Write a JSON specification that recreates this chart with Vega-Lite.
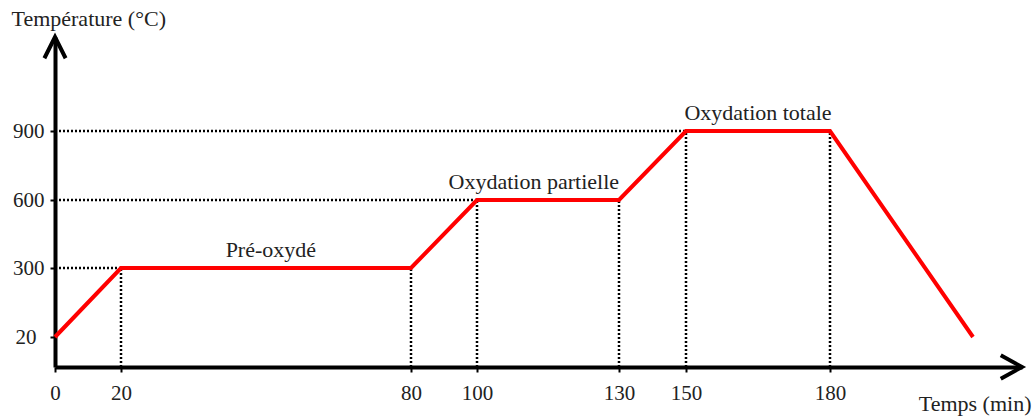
{
  "$schema": "https://vega.github.io/schema/vega-lite/v6.json",
  "width": 967,
  "height": 330,
  "autosize": {"type": "none"},
  "padding": {"left": 55, "top": 37, "right": 13, "bottom": 49},
  "background": "white",
  "config": {
    "view": {"stroke": null},
    "font": "Liberation Serif",
    "text": {"font": "Liberation Serif"}
  },
  "encoding": {
    "x": {
      "field": "t",
      "type": "quantitative",
      "scale": {
        "domain": [0, 20, 80, 100, 130, 150, 180, 210, 240],
        "range": [0, 66, 356, 422, 564, 631, 775, 918, 967],
        "nice": false,
        "zero": false
      },
      "axis": {
        "values": [0, 20, 80, 100, 130, 150, 180],
        "grid": false,
        "domainColor": "black",
        "domainWidth": 4,
        "tickColor": "black",
        "tickWidth": 2,
        "tickSize": 5,
        "labelFont": "Liberation Serif",
        "labelFontSize": 21,
        "labelColor": "#222",
        "labelPadding": 10,
        "labelFlush": false,
        "title": "Temps (min)",
        "titleFont": "Liberation Serif",
        "titleFontSize": 22,
        "titleFontWeight": "normal",
        "titleColor": "#222",
        "titleAlign": "right",
        "titleAnchor": null,
        "titleX": 976,
        "titleY": 43,
        "titleBaseline": "alphabetic"
      }
    },
    "y": {
      "field": "temp",
      "type": "quantitative",
      "scale": {
        "domain": [0, 20, 300, 600, 900, 1300],
        "range": [330, 300, 231, 163, 94, 0],
        "nice": false,
        "zero": false
      },
      "axis": {
        "values": [20, 300, 600, 900],
        "grid": false,
        "domainColor": "black",
        "domainWidth": 4,
        "tickColor": "black",
        "tickWidth": 2,
        "tickSize": 5,
        "labelFont": "Liberation Serif",
        "labelFontSize": 21,
        "labelColor": "#222",
        "labelPadding": {"condition": {"test": "datum.value == 20", "value": 14}, "value": 6},
        "labelFlush": false,
        "title": "Température (°C)",
        "titleFont": "Liberation Serif",
        "titleFontSize": 22,
        "titleFontWeight": "normal",
        "titleColor": "#222",
        "titleAngle": 0,
        "titleAlign": "left",
        "titleAnchor": null,
        "titleX": -44,
        "titleY": -12,
        "titleBaseline": "alphabetic"
      }
    }
  },
  "layer": [
    {
      "data": {
        "values": [
          {"t": 20, "t2": 20, "temp": 0, "temp2": 300},
          {"t": 80, "t2": 80, "temp": 0, "temp2": 300},
          {"t": 100, "t2": 100, "temp": 0, "temp2": 600},
          {"t": 130, "t2": 130, "temp": 0, "temp2": 600},
          {"t": 150, "t2": 150, "temp": 0, "temp2": 900},
          {"t": 180, "t2": 180, "temp": 0, "temp2": 900},
          {"t": 0, "t2": 20, "temp": 300, "temp2": 300},
          {"t": 0, "t2": 100, "temp": 600, "temp2": 600},
          {"t": 0, "t2": 150, "temp": 900, "temp2": 900}
        ]
      },
      "mark": {"type": "rule", "color": "black", "strokeWidth": 2.5, "strokeDash": [2, 2]},
      "encoding": {
        "x2": {"field": "t2"},
        "y2": {"field": "temp2"}
      }
    },
    {
      "data": {
        "values": [
          {"t": 0, "temp": 20},
          {"t": 20, "temp": 300},
          {"t": 80, "temp": 300},
          {"t": 100, "temp": 600},
          {"t": 130, "temp": 600},
          {"t": 150, "temp": 900},
          {"t": 180, "temp": 900},
          {"t": 210, "temp": 20}
        ]
      },
      "mark": {"type": "line", "color": "#ff0000", "strokeWidth": 4, "strokeJoin": "miter"}
    },
    {
      "data": {
        "values": [
          {"t": 240, "temp": 0, "dir": "right"},
          {"t": 0, "temp": 1300, "dir": "up"}
        ]
      },
      "mark": {"type": "point", "filled": false, "strokeWidth": 4, "color": "black", "opacity": 1, "size": 500, "strokeJoin": "miter"},
      "encoding": {
        "shape": {
          "field": "dir",
          "type": "nominal",
          "scale": {
            "domain": ["right", "up"],
            "range": ["M-1.9,-1.05L0,0L-1.9,1.05", "M-0.95,1.9L0,0L0.95,1.9"]
          },
          "legend": null
        }
      }
    },
    {
      "data": {
        "values": [
          {"t": 51, "temp": 300, "label": "Pré-oxydé"},
          {"t": 112, "temp": 600, "label": "Oxydation partielle"},
          {"t": 165, "temp": 900, "label": "Oxydation totale"}
        ]
      },
      "mark": {"type": "text", "font": "Liberation Serif", "fontSize": 22, "color": "#222", "baseline": "alphabetic", "align": "center", "dy": -11},
      "encoding": {
        "text": {"field": "label"}
      }
    }
  ]
}
